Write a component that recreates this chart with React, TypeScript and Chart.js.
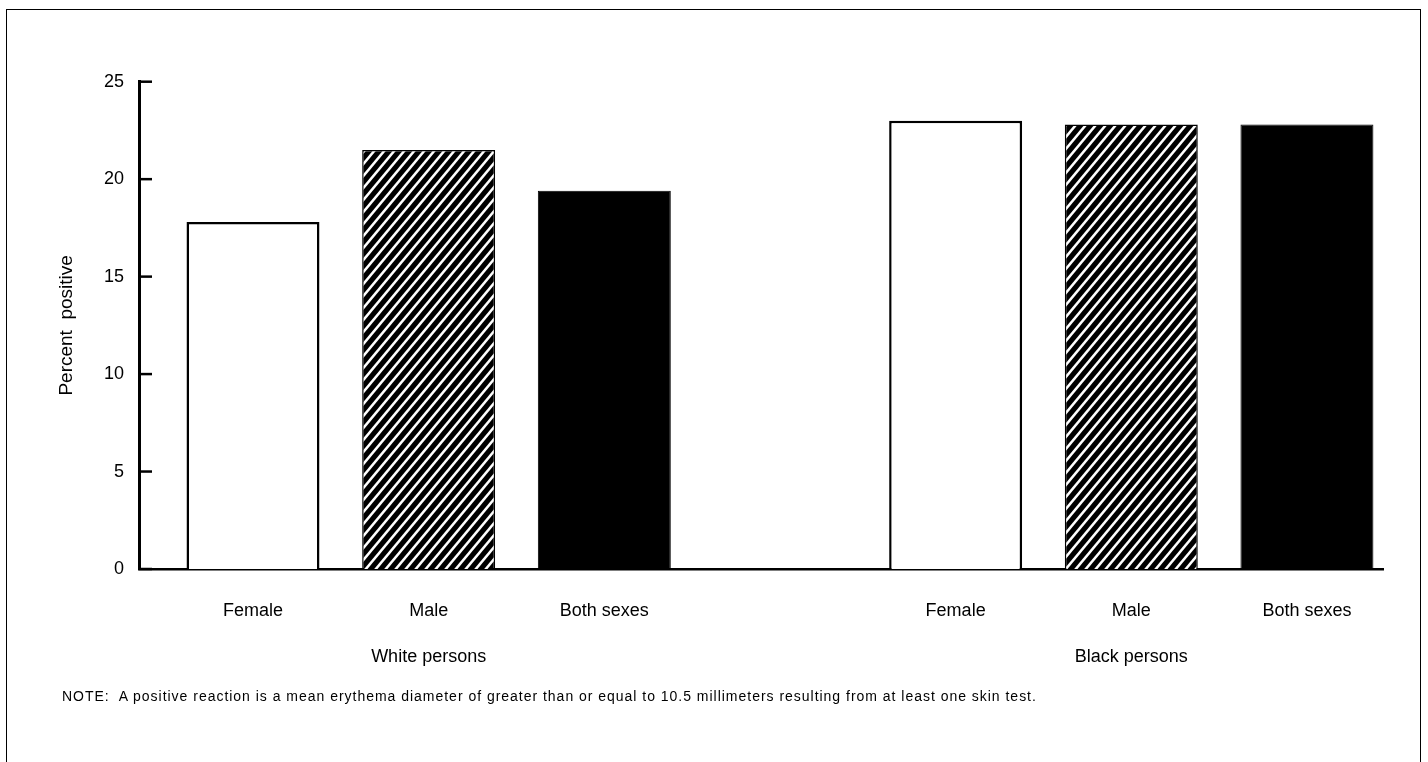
import React, { useEffect, useRef } from "react";
import { Chart, registerables } from "chart.js";

Chart.register(...registerables);

const sexLabels = ["Female", "Male", "Both sexes"];
const groupLabels = ["White persons", "Black persons"];
const whiteValues = [17.8, 21.5, 19.4];
const blackValues = [23.0, 22.8, 22.8];
const yMin = 0;
const yMax = 25;
const yStep = 5;
const yTitle = "Percent  positive";
const noteText =
  "NOTE:  A positive reaction is a mean erythema diameter of greater than or equal to 10.5 millimeters resulting from at least one skin test.";

const FONT = "'Liberation Sans', Arial, Helvetica, sans-serif";

function makeHatch(): CanvasPattern | string {
  const c = document.createElement("canvas");
  const w = 10;
  const h = 12;
  c.width = w;
  c.height = h;
  const g = c.getContext("2d");
  if (!g) return "#000";
  g.fillStyle = "#000";
  g.fillRect(0, 0, w, h);
  g.strokeStyle = "#fff";
  g.lineWidth = 2.5;
  for (const k of [0, 1, 2]) {
    g.beginPath();
    g.moveTo(-w, k * h + h);
    g.lineTo(2 * w, k * h - 2 * h);
    g.stroke();
  }
  const p = g.createPattern(c, "repeat");
  return p || "#000";
}

export default function App() {
  const ref = useRef<HTMLCanvasElement | null>(null);

  useEffect(() => {
    if (!ref.current) return;
    const hatch = makeHatch();
    const groupSize = sexLabels.length + 1;
    const groupsValues = [whiteValues, blackValues];
    const fills: any[] = ["#ffffff", hatch, "#000000"];
    const borderWidths = [2.5, 1.5, 1];

    const datasets = sexLabels.map((s, si) => ({
      label: s,
      data: groupsValues.map((vals, gi) => ({ x: gi * groupSize + si, y: vals[si] })),
      backgroundColor: fills[si],
      borderColor: "#000",
      borderWidth: borderWidths[si],
      grouped: false,
      barPercentage: 0.757,
      categoryPercentage: 1,
    }));

    const tickPositions: number[] = [];
    const tickTexts: string[] = [];
    groupLabels.forEach((_, gi) =>
      sexLabels.forEach((s, si) => {
        tickPositions.push(gi * groupSize + si);
        tickTexts.push(s);
      })
    );
    const groupCenters = groupLabels.map((_, gi) => gi * groupSize + (sexLabels.length - 1) / 2);

    const innerTicks = {
      id: "innerTicks",
      afterDraw(chart: any) {
        const y = chart.scales.y;
        const ctx = chart.ctx;
        ctx.save();
        ctx.strokeStyle = "#000";
        ctx.lineWidth = 2.5;
        y.ticks.forEach((t: any) => {
          const py = y.getPixelForValue(t.value);
          ctx.beginPath();
          ctx.moveTo(chart.chartArea.left, py);
          ctx.lineTo(chart.chartArea.left + 13, py);
          ctx.stroke();
        });
        ctx.restore();
      },
    };

    const chart = new Chart(ref.current, {
      type: "bar",
      data: { datasets: datasets as any },
      plugins: [innerTicks],
      options: {
        responsive: false,
        animation: false,
        layout: { padding: { left: 0, top: 81.7, right: 45, bottom: 83 } },
        plugins: { legend: { display: false }, tooltip: { enabled: false } },
        scales: {
          x: {
            type: "linear",
            min: -0.649,
            max: 6.433,
            bounds: "data",
            offset: false,
            weight: 0,
            grid: { display: false, drawTicks: false },
            border: { display: true, width: 2.5, color: "#000" },
            afterBuildTicks: (s: any) => {
              s.ticks = tickPositions.map((v) => ({ value: v }));
            },
            afterFit: (s: any) => {
              s.height = 60;
            },
            ticks: {
              autoSkip: false,
              maxRotation: 0,
              padding: 31,
              color: "#000",
              font: { family: FONT, size: 18 },
              callback: (_v: any, i: number) => tickTexts[i],
            },
          },
          x2: {
            type: "linear",
            position: "bottom",
            axis: "x",
            min: -0.649,
            max: 6.433,
            bounds: "data",
            offset: false,
            weight: 1,
            grid: { display: false, drawTicks: false },
            border: { display: false },
            afterBuildTicks: (s: any) => {
              s.ticks = groupCenters.map((v) => ({ value: v }));
            },
            afterFit: (s: any) => {
              s.height = 50;
            },
            ticks: {
              autoSkip: false,
              maxRotation: 0,
              padding: 17,
              color: "#000",
              font: { family: FONT, size: 18 },
              callback: (_v: any, i: number) => groupLabels[i],
            },
          },
          y: {
            type: "linear",
            min: yMin,
            max: yMax,
            grid: { display: false, drawTicks: false },
            border: { display: true, width: 3, color: "#000" },
            afterFit: (s: any) => {
              s.width = 139;
            },
            ticks: {
              stepSize: yStep,
              padding: 15,
              color: "#000",
              font: { family: FONT, size: 18 },
            },
            title: {
              display: true,
              text: yTitle,
              color: "#000",
              font: { family: FONT, size: 19 },
              padding: { top: 55.5, bottom: 0 },
            },
          },
        },
      } as any,
    });
    return () => chart.destroy();
  }, []);

  return (
    <div
      style={{
        position: "fixed",
        left: 0,
        top: 0,
        width: 1428,
        height: 762,
        background: "#fff",
        overflow: "hidden",
      }}
    >
      <div
        style={{
          position: "absolute",
          left: 6,
          top: 8.5,
          width: 1413,
          height: 800,
          borderTop: "1.5px solid #000",
          borderLeft: "1.5px solid #000",
          borderRight: "1.5px solid #000",
        }}
      />
      <canvas
        ref={ref}
        width={1428}
        height={762}
        style={{ position: "absolute", left: 0, top: 0, width: 1428, height: 762 }}
      />
      <div
        style={{
          position: "absolute",
          left: 62,
          top: 688,
          fontFamily: FONT,
          fontSize: 14,
          lineHeight: "17px",
          letterSpacing: "0.98px",
          whiteSpace: "pre",
          color: "#000",
        }}
      >
        {noteText}
      </div>
    </div>
  );
}
